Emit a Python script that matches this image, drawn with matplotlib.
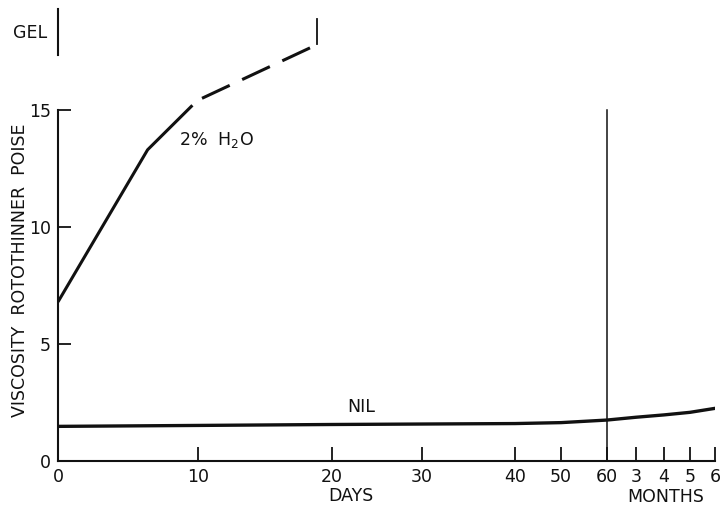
import numpy as np
import matplotlib.pyplot as plt

plt.rcParams['font.family'] = ['DejaVu Sans']
plt.rcParams['mathtext.fontset'] = 'custom'
plt.rcParams['mathtext.rm'] = 'DejaVu Sans'

# Achse: Tage (nicht linear gezeichnet), danach Monate
tick_days = [0, 10, 20, 30, 40, 50, 60, 90, 120, 150, 180]
tick_labels = ['0', '10', '20', '30', '40', '50', '60', '3', '4', '5', '6']
tick_pos = [0, 140, 274, 364, 457, 503, 549, 578, 606, 632, 657]

# 2% H2O Kurve
h2o_days = [0, 6.4, 9.6]
h2o_visc = [6.8, 13.3, 15.2]
h2o_dash_days = [10.3, 18.9]
h2o_dash_visc = [15.5, 17.8]
h2o_gel_days = [18.9, 18.9]
h2o_gel_visc = [17.8, 18.9]

# NIL Kurve
nil_days = [0, 10, 20, 30, 40, 50, 60, 90, 120, 150, 180]
nil_visc = [1.48, 1.52, 1.56, 1.58, 1.6, 1.64, 1.75, 1.87, 1.97, 2.08, 2.25]

gel_range = [17.35, 19.3]


def fwd(x):
    return np.interp(x, tick_days, tick_pos)


def inv(p):
    return np.interp(p, tick_pos, tick_days)


fig = plt.figure(figsize=(7.23, 5.07), dpi=100)
ax = fig.add_axes([58 / 723, 46 / 507, 657 / 723, 461 / 507])
ax.set_xscale('function', functions=(fwd, inv))
ax.set_xlim(0, 180)
ax.set_ylim(0, 461 / 23.4)

col = '#111111'
fs = 12.5
ax.plot(h2o_days, h2o_visc, color=col, lw=2.2, solid_capstyle='butt')
ax.plot(h2o_dash_days, h2o_dash_visc, color=col, lw=2.2, dashes=(10, 4.5))
ax.plot(h2o_gel_days, h2o_gel_visc, color=col, lw=1.3)
ax.plot(nil_days, nil_visc, color=col, lw=2.4)
ax.plot([60, 60], [0, 15], color=col, lw=1.1)
ax.plot([0, 0], gel_range, color=col, lw=1.5, clip_on=False)

for s in ['top', 'right']:
    ax.spines[s].set_visible(False)
ax.spines['left'].set_bounds(0, 15)
ax.spines['left'].set_linewidth(1.5)
ax.spines['bottom'].set_linewidth(1.5)
ax.spines['left'].set_color(col)
ax.spines['bottom'].set_color(col)

ax.set_xticks(tick_days)
ax.set_xticklabels(tick_labels)
ax.set_yticks([0, 5, 10, 15])
ax.tick_params(axis='x', direction='in', length=10, width=1.3, pad=5,
               labelsize=fs, colors=col)
ax.tick_params(axis='y', direction='in', length=9, width=1.3, pad=5,
               labelsize=fs, colors=col)

ax.text(11.4, 13.7, '2%  H$_2$O', fontsize=fs, ha='center', va='center', color=col)
ax.text(23.2, 2.3, 'NIL', fontsize=fs, ha='center', va='center', color=col)
fig.text(30 / 723, 1 - 33 / 507, 'GEL', fontsize=fs, ha='center', va='center', color=col)
fig.text(351 / 723, 1 - 496 / 507, 'DAYS', fontsize=fs, ha='center', va='center', color=col)
fig.text(666 / 723, 1 - 497 / 507, 'MONTHS', fontsize=fs, ha='center', va='center', color=col)
fig.text(20 / 723, 1 - 270 / 507, 'VISCOSITY  ROTOTHINNER  POISE', fontsize=fs,
         rotation=90, ha='center', va='center', color=col)

fig.savefig('out.png', dpi=100)
